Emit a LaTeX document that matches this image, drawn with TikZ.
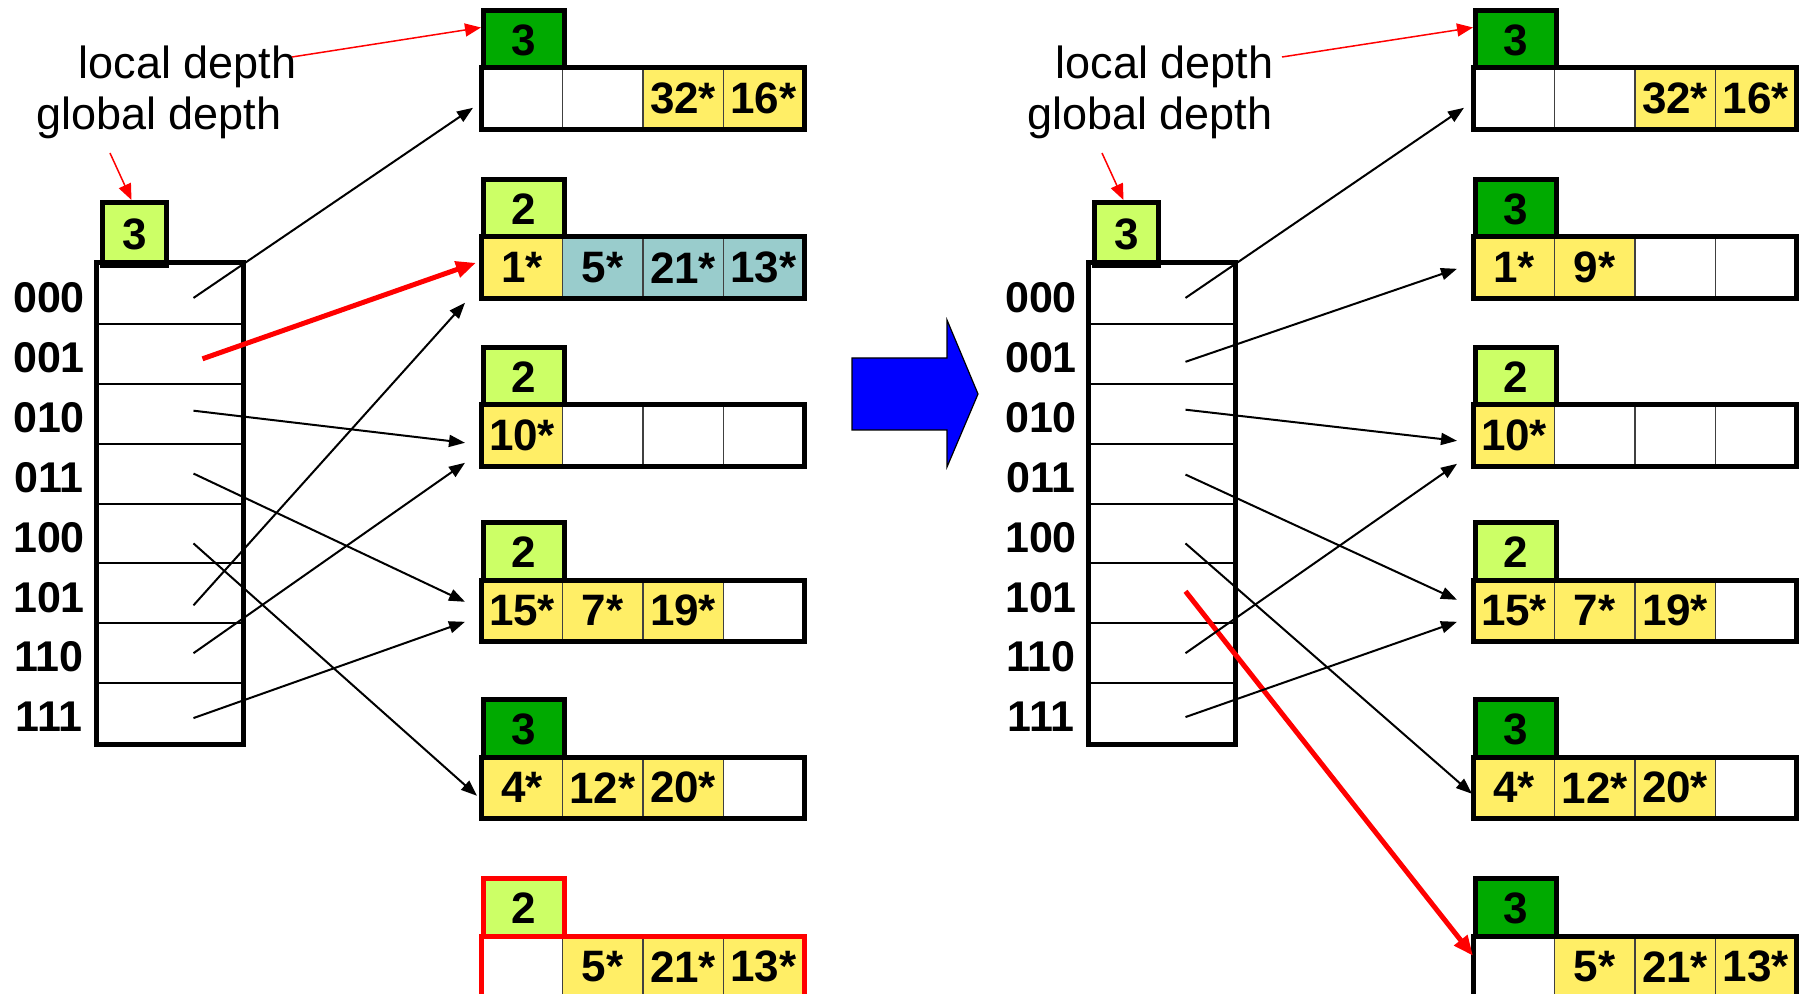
\documentclass[tikz,border=0pt]{standalone}
\usepackage{fontspec}
\setmainfont{Liberation Sans}
\usepackage{tikz}
\usetikzlibrary{arrows.meta, calc}

\definecolor{dkgreen}{RGB}{0,170,0}
\definecolor{ltgreen}{RGB}{204,255,102}
\definecolor{entry}{RGB}{255,238,102}
\definecolor{moved}{RGB}{153,204,204}

\tikzset{
	slot/.style={draw=black!75, line width=0.8pt, minimum width=40.25pt, minimum height=30pt, inner sep=0pt, font=\fontsize{22}{26}\selectfont\bfseries},
	depthbox/.style={line width=2.5pt, minimum width=40.25pt, minimum height=30pt, inner sep=0pt, font=\fontsize{22}{26}\selectfont\bfseries},
	gdbox/.style={draw, fill=ltgreen, line width=2.5pt, minimum width=32pt, minimum height=31.5pt, inner sep=0pt, font=\fontsize{22}{26}\selectfont\bfseries},
	dirrow/.style={draw, line width=1pt, minimum width=72.5pt, minimum height=29.9375pt, inner sep=0pt},
	binlabel/.style={font=\fontsize{21.5}{26}\selectfont\bfseries, inner sep=0pt},
	depthtext/.style={font=\fontsize{22.5}{27}\selectfont, inner sep=0pt},
	bframe/.style={line width=2.5pt},
	ptr/.style={-{Triangle[length=8pt,width=6pt]}, line width=1pt},
	newptr/.style={red, -{Triangle[length=10pt,width=8pt]}, line width=2.5pt},
	note/.style={red, -{Triangle[length=8pt,width=6.5pt]}, line width=0.75pt},
}

% bucket: [frame colour]{name}{left}{top}{depth fill}{depth}{entry/fill,...}
\newcommand{\drawbucket}[7][black]{%
	\node[depthbox, draw=#1, fill=#5, anchor=north west] (#2d) at (#3,#4) {#6};
	\foreach \txt/\col [count=\i] in {#7} {
		\node[slot, fill=\col, anchor=north west] (#2s\i) at ({#3+(\i-1)*80.5},{#4+60}) {\txt};
	}
	\draw[bframe, draw=#1] (#2s1.north west) rectangle (#2s4.south east);
}

% directory: {name}{left}
\newcommand{\drawdir}[2]{%
	\node[gdbox, anchor=north west] (#1g) at (#2+4,200) {3};
	\foreach \lab [count=\i] in {000,001,010,011,100,101,110,111} {
		\node[dirrow, anchor=north west] (#1r\i) at (#2,{263+(\i-1)*59.875}) {};
		\node[binlabel] (#1b\i) at ($(#1r\i.west)+(-47,4)$) {\lab};
	}
	\draw[bframe] (#1r1.north west) rectangle (#1r8.south east);
}

\begin{document}
\begin{tikzpicture}[x=0.5pt, y=-0.5pt]
	\useasboundingbox (0,0) rectangle (1804,994);

	% before the split
	\node[depthtext, anchor=base east] (ldL) at (297,79) {local depth};
	\node[depthtext, anchor=base east] (gdL) at (282,130) {global depth};
	\drawdir{L}{96}
	\drawbucket{LA}{481}{8}{dkgreen}{3}{{}/white, {}/white, 32*/entry, 16*/entry}
	\drawbucket{LB}{481}{177}{ltgreen}{2}{1*/entry, 5*/moved, 21*/moved, 13*/moved}
	\drawbucket{LC}{481}{345}{ltgreen}{2}{10*/entry, {}/white, {}/white, {}/white}
	\drawbucket{LD}{481}{520}{ltgreen}{2}{15*/entry, 7*/entry, 19*/entry, {}/white}
	\drawbucket{LE}{481}{697}{dkgreen}{3}{4*/entry, 12*/entry, 20*/entry, {}/white}
	\drawbucket[red]{LF}{481}{876}{ltgreen}{2}{{}/white, 5*/entry, 21*/entry, 13*/entry}

	\draw[note] ($(ldL.base east)+(-5,-22)$) -- ($(LAd.west)+(0,-13)$);
	\draw[note] ($(gdL.base west)+(74,23)$) -- ($(Lg.north)+(-3,0)$);

	\draw[ptr] ($(Lr1.center)+(24,4)$) -- ($(LAs1.west)+(-8,9)$);
	\draw[newptr] ($(Lr2.center)+(33,5)$) -- ($(LBs1.west)+(-5,-5)$);
	\draw[ptr] ($(Lr3.center)+(24,-3)$) -- ($(LCs1.west)+(-16,7)$);
	\draw[ptr] ($(Lr4.center)+(24,0)$) -- ($(LDs1.west)+(-16,-9)$);
	\draw[ptr] ($(Lr5.center)+(24,10)$) -- ($(LEs1.west)+(-4,8)$);
	\draw[ptr] ($(Lr6.center)+(24,12)$) -- ($(LBs1.west)+(-16,35)$);
	\draw[ptr] ($(Lr7.center)+(24,0)$) -- ($(LCs1.west)+(-16,27)$);
	\draw[ptr] ($(Lr8.center)+(24,5)$) -- ($(LDs1.west)+(-16,11)$);

	% big arrow
	\draw[fill=blue, line width=0.6pt] (852,358) -- (947,358) -- (947,320) -- (978,394)
		-- (947,467) -- (947,430) -- (852,430) -- cycle;

	% after the split
	\node[depthtext, anchor=base east] (ldR) at (1274,79) {local depth};
	\node[depthtext, anchor=base east] (gdR) at (1273,130) {global depth};
	\drawdir{R}{1088}
	\drawbucket{RA}{1473}{8}{dkgreen}{3}{{}/white, {}/white, 32*/entry, 16*/entry}
	\drawbucket{RB}{1473}{177}{dkgreen}{3}{1*/entry, 9*/entry, {}/white, {}/white}
	\drawbucket{RC}{1473}{345}{ltgreen}{2}{10*/entry, {}/white, {}/white, {}/white}
	\drawbucket{RD}{1473}{520}{ltgreen}{2}{15*/entry, 7*/entry, 19*/entry, {}/white}
	\drawbucket{RE}{1473}{697}{dkgreen}{3}{4*/entry, 12*/entry, 20*/entry, {}/white}
	\drawbucket{RF}{1473}{876}{dkgreen}{3}{{}/white, 5*/entry, 21*/entry, 13*/entry}

	\draw[note] ($(ldR.base east)+(8,-22)$) -- ($(RAd.west)+(0,-13)$);
	\draw[note] ($(gdR.base west)+(75,23)$) -- ($(Rg.north)+(-3,0)$);

	\draw[ptr] ($(Rr1.center)+(24,4)$) -- ($(RAs1.west)+(-9,9)$);
	\draw[ptr] ($(Rr2.center)+(24,8)$) -- ($(RBs1.west)+(-16,1)$);
	\draw[ptr] ($(Rr3.center)+(24,-4)$) -- ($(RCs1.west)+(-16,5)$);
	\draw[ptr] ($(Rr4.center)+(24,1)$) -- ($(RDs1.west)+(-16,-11)$);
	\draw[ptr] ($(Rr5.center)+(24,10)$) -- ($(REs1.west)+(-1,6)$);
	\draw[newptr] ($(Rr6.center)+(24,-2)$) -- ($(RFs1.west)+(0,-11)$);
	\draw[ptr] ($(Rr7.center)+(24,0)$) -- ($(RCs1.west)+(-16,28)$);
	\draw[ptr] ($(Rr8.center)+(24,4)$) -- ($(RDs1.west)+(-16,11)$);
\end{tikzpicture}
\end{document}
